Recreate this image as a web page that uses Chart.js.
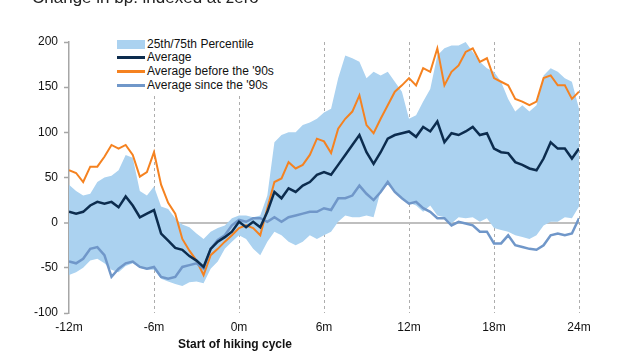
<!DOCTYPE html>
<html>
<head>
<meta charset="utf-8">
<script src="https://cdn.jsdelivr.net/npm/chart.js@4.4.0/dist/chart.umd.min.js"></script>
<style>
body{margin:0;background:#fff;font-family:"Liberation Sans",Arial,sans-serif;}
#wrap{position:relative;width:638px;height:360px;overflow:hidden;}
#title{position:absolute;left:32px;top:-11px;font-size:17px;line-height:17px;color:#222;white-space:nowrap;}
#legend{position:absolute;left:114px;top:36px;width:168px;height:58px;background:#fff;font-size:12px;color:#111;}
.row{position:absolute;left:3px;height:14px;line-height:14px;white-space:nowrap;}
.sw{display:inline-block;width:28px;vertical-align:middle;margin-right:2px;}
</style>
</head>
<body>
<div id="wrap">
  <canvas id="grafica" width="638" height="360"></canvas>
  <div id="title">Change in bp: indexed at zero</div>
  <div id="legend">
    <div class="row" style="top:1px"><span class="sw" style="height:9px;background:#abd2f0"></span>25th/75th Percentile</div>
    <div class="row" style="top:14px"><span class="sw" style="height:3px;background:#0c2c4e"></span>Average</div>
    <div class="row" style="top:28px"><span class="sw" style="height:3px;background:#f58220"></span>Average before the '90s</div>
    <div class="row" style="top:42px"><span class="sw" style="height:3px;background:#7097c9"></span>Average since the '90s</div>
  </div>
</div>
<script>
// months from start of hiking cycle
var meses = [-12,-11.5,-11,-10.5,-10,-9.5,-9,-8.5,-8,-7.5,-7,-6.5,-6,-5.5,-5,-4.5,-4,-3.5,-3,
  -2.5,-2,-1.5,-1,-0.5,0,0.5,1,1.5,2,2.5,3,3.5,4,4.5,5,5.5,6,
  6.5,7,7.5,8,8.5,9,9.5,10,10.5,11,11.5,12,12.5,13,13.5,14,14.5,15,
  15.5,16,16.5,17,17.5,18,18.5,19,19.5,20,20.5,21,21.5,22,22.5,23,23.5,24];

var promedio = [12,10,12,19,23,21,23,17,29,19,6,10,14,-12,-20,-28,-30,-37,-42,
  -49,-29,-21,-16,-10,1,-5,1,-5,12,34,27,38,34,41,45,53,56,
  53,64,75,86,97,78,65,78,93,97,99,101,95,106,101,112,89,99,
  97,101,106,97,99,82,78,77,67,64,60,58,71,89,82,82,71,82];

var antes90 = [58,55,45,62,62,73,86,82,86,75,51,56,78,42,22,10,-18,-31,-42,
  -58,-36,-29,-21,-14,-6,-3,-6,-14,16,45,49,67,60,64,75,93,90,
  77,104,115,123,141,108,99,115,130,145,152,160,152,171,167,193,152,167,
  174,189,193,178,182,160,156,152,137,134,130,134,160,163,152,152,137,145];

var desde90 = [-43,-45,-40,-29,-27,-36,-60,-51,-45,-43,-49,-51,-49,-60,-62,-60,-49,-47,-45,
  -51,-29,-19,-14,-3,3,1,5,5,1,6,1,6,8,10,12,12,16,
  14,27,27,30,41,32,25,34,45,34,27,21,23,16,12,5,5,-3,
  1,-1,-3,-10,-10,-23,-23,-14,-25,-27,-29,-30,-25,-14,-12,-14,-12,5];

var p75 = [42,35,30,32,45,50,52,58,75,72,35,30,40,18,15,5,-2,-5,-12,
  -18,-10,-6,-3,5,8,8,6,8,30,89,97,100,100,108,111,115,122,
  126,160,185,182,178,160,167,163,167,156,145,115,119,134,148,185,193,196,
  196,200,189,178,171,167,156,137,123,130,123,130,163,171,167,160,156,126];

var p25 = [-58,-55,-50,-42,-40,-45,-52,-55,-48,-45,-50,-52,-52,-62,-65,-68,-70,-66,-65,
  -67,-51,-43,-29,-21,-14,-18,-29,-36,-21,-10,-14,-21,-25,-21,-14,-18,-14,
  -10,1,8,6,6,8,6,35,42,35,27,22,19,12,19,8,6,-1,
  6,5,6,1,5,-6,-8,-10,-14,-16,-18,-14,-3,1,1,6,5,18];

var tituloX = 'Start of hiking cycle';

function puntos(vals) {
  return vals.map(function (v, i) { return { x: meses[i], y: v }; });
}

var fuente = '"Liberation Sans", Arial, sans-serif';

var tituloEje = {
  id: 'tituloEje',
  afterDraw: function (chart) {
    var ctx = chart.ctx;
    var x = chart.scales.x.getPixelForValue(0);
    ctx.save();
    ctx.font = 'bold 12px ' + fuente;
    ctx.fillStyle = '#111';
    ctx.textAlign = 'center';
    ctx.textBaseline = 'middle';
    ctx.fillText(tituloX, x - 4, 345);
    ctx.restore();
  }
};

let grafica = document.getElementById('grafica').getContext('2d');
var chart = new Chart(grafica, {
  type: 'line',
  data: {
    datasets: [
      { label: 'p25', data: puntos(p25), borderWidth: 0, pointRadius: 0, fill: false, order: 10 },
      { label: '25th/75th Percentile', data: puntos(p75), borderWidth: 0, pointRadius: 0,
        fill: '-1', backgroundColor: '#abd2f0', order: 9 },
      { label: "Average before the '90s", data: puntos(antes90), borderColor: '#f58220',
        borderWidth: 2, pointRadius: 0, fill: false, order: 3 },
      { label: "Average since the '90s", data: puntos(desde90), borderColor: '#7097c9',
        borderWidth: 2.5, pointRadius: 0, fill: false, order: 2 },
      { label: 'Average', data: puntos(promedio), borderColor: '#0c2c4e',
        borderWidth: 2.5, pointRadius: 0, fill: false, order: 1 }
    ]
  },
  options: {
    responsive: false,
    animation: false,
    devicePixelRatio: 1,
    layout: { padding: { top: 42, right: 59, left: 0, bottom: 0 } },
    plugins: {
      legend: { display: false },
      tooltip: { enabled: false },
      title: { display: false }
    },
    scales: {
      x: {
        type: 'linear',
        min: -12,
        max: 24,
        afterFit: function (s) { s.height = 47; },
        ticks: {
          stepSize: 6,
          padding: 7,
          color: '#111',
          font: { size: 12, family: fuente },
          callback: function (v) { return v + 'm'; }
        },
        grid: {
          drawTicks: false,
          color: function (c) { return c.tick && c.tick.value === -12 ? 'rgba(0,0,0,0)' : '#adadad'; },
          lineWidth: 1
        },
        border: { display: false, dash: [3, 3] }
      },
      y: {
        min: -100,
        max: 200,
        afterFit: function (s) { s.width = 69; },
        ticks: {
          stepSize: 50,
          padding: 6,
          color: '#111',
          font: { size: 12, family: fuente }
        },
        grid: {
          color: function (c) { return c.tick && c.tick.value === 0 ? '#bfbfbf' : 'rgba(0,0,0,0)'; },
          lineWidth: function (c) { return c.tick && c.tick.value === 0 ? 2 : 1; },
          tickColor: '#a6a6a6',
          tickLength: 5,
          tickWidth: 1.5
        },
        border: { color: '#a6a6a6', width: 1.5 }
      }
    }
  },
  plugins: [tituloEje]
});
</script>
</body>
</html>
